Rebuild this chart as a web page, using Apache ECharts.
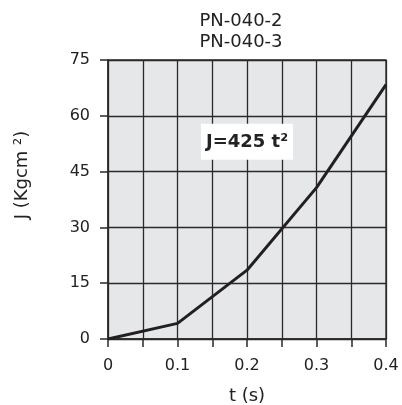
<!DOCTYPE html>
<html><head><meta charset="utf-8">
<script src="https://cdn.jsdelivr.net/npm/echarts@6/dist/echarts.min.js"></script>
<style>html,body{margin:0;padding:0;background:#fff}#c{width:402px;height:405px}</style>
</head><body><div id="c"></div>
<script>
const titleLines = ['PN-040-2', 'PN-040-3'];
const tValues = [0, 0.1, 0.2, 0.3, 0.4];
const jValues = [0, 4.2, 18.5, 40.7, 68.4];
const formulaText = 'J=425 t²';
const formulaAt = [0.2, 53];
const xName = 't (s)';
const yName = 'J (Kgcm ²)';

const font = 'DejaVu Sans';
const chart = echarts.init(document.getElementById('c'), null, {renderer: 'canvas'});
chart.setOption({
  animation: false,
  title: {
    text: titleLines.join('\n'), left: 236, top: 6, textAlign: 'center',
    textStyle: {fontFamily: font, fontSize: 18, fontWeight: 'normal', color: '#222', lineHeight: 21}
  },
  graphic: [{
    type: 'text', x: 22, y: 175, rotation: Math.PI / 2,
    style: {text: yName, fontFamily: font, fontSize: 18, fill: '#222', align: 'center', verticalAlign: 'middle'}
  }],
  grid: {left: 108, right: 16, top: 60, bottom: 66, containLabel: false, outerBoundsMode: 'none',
    show: true, backgroundColor: '#e6e7e8', borderColor: '#2a2a2a', borderWidth: 1.3},
  xAxis: {
    type: 'value', min: 0, max: 0.4, interval: 0.05,
    name: xName, nameLocation: 'middle', nameGap: 48,
    nameTextStyle: {fontFamily: font, fontSize: 18, color: '#222'},
    axisLine: {show: true, onZero: false, lineStyle: {color: '#2a2a2a', width: 1.5}},
    axisTick: {show: true, length: 8, lineStyle: {color: '#2a2a2a', width: 1.5}},
    axisLabel: {
      margin: 19, fontFamily: font, fontSize: 16, color: '#222',
      formatter: v => (Math.round(v * 100) % 10 === 0) ? String(Math.round(v * 10) / 10) : ''
    },
    splitLine: {show: true, lineStyle: {color: '#2a2a2a', width: 1.3}}
  },
  yAxis: {
    type: 'value', min: 0, max: 75, interval: 15,
    axisLine: {show: true, lineStyle: {color: '#2a2a2a', width: 1.5}},
    axisTick: {show: true, length: 8, lineStyle: {color: '#2a2a2a', width: 1.5}},
    axisLabel: {margin: 18, fontFamily: font, fontSize: 16, color: '#222'},
    splitLine: {show: true, lineStyle: {color: '#2a2a2a', width: 1.3}}
  },
  series: [{
    type: 'line',
    data: tValues.map((t, i) => [t, jValues[i]]),
    symbol: 'none',
    lineStyle: {color: '#231f20', width: 3},
    markPoint: {
      symbol: 'rect', symbolSize: 1, itemStyle: {color: 'rgba(0,0,0,0)'},
      label: {
        show: true, position: 'inside', formatter: formulaText,
        backgroundColor: '#fff', padding: [9, 5, 9, 5],
        fontFamily: font, fontSize: 18, fontWeight: 'bold', color: '#222'
      },
      data: [{coord: formulaAt}]
    }
  }]
});
</script></body></html>
